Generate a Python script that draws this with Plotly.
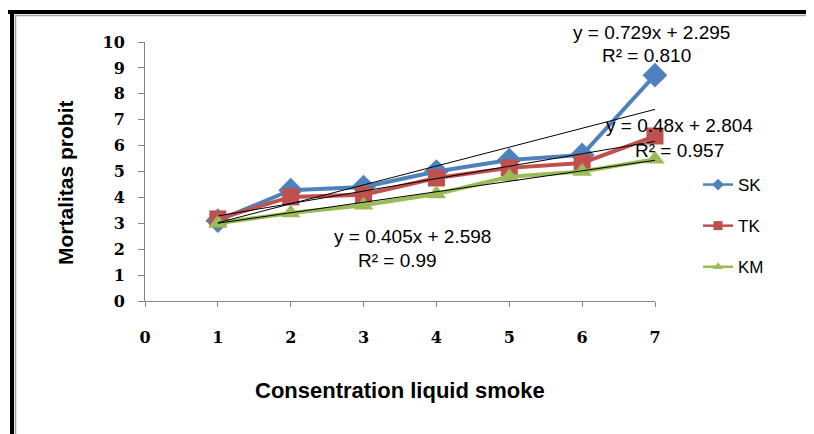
import plotly.graph_objects as go

# ---- data ----
conc = [1, 2, 3, 4, 5, 6, 7]
sk = [3.1, 4.28, 4.4, 5.0, 5.44, 5.64, 8.72]
tk = [3.17, 4.02, 4.1, 4.75, 5.14, 5.33, 6.37]
km = [3.0, 3.4, 3.7, 4.13, 4.8, 5.0, 5.47]
series_names = ["SK", "TK", "KM"]
colors = ["#4F81BD", "#C0504D", "#9BBB59"]
symbols = ["diamond", "square", "triangle-up"]

# trendline coefficients (as printed on the chart)
slopes = [0.729, 0.48, 0.405]
intercepts = [2.295, 2.804, 2.598]
r2 = ["0.810", "0.957", "0.99"]

x_ticks = [0, 1, 2, 3, 4, 5, 6, 7]
y_ticks = [0, 1, 2, 3, 4, 5, 6, 7, 8, 9, 10]

# page offset of the plot div (body margin)
OFF = 8
W, H = 814, 434
L, R, T, B = 145 - OFF, 655 - OFF, 42 - OFF, 301 - OFF


def px(p):
    return (p - OFF - L) / (R - L)


def py(p):
    return (B - (p - OFF)) / (B - T)


# label positions in screen pixels (eq centre, R² centre)
eq_pix = [((651, 32), (646, 55)), ((679, 125), (679, 150)), ((412, 236), (397, 260))]

fig = go.Figure()
for name, ys, c, s in zip(series_names, [sk, tk, km], colors, symbols):
    fig.add_trace(go.Scatter(
        x=conc, y=ys, mode="lines+markers", name=name, showlegend=False,
        line=dict(color=c, width=4),
        marker=dict(symbol=s, size=17 if s != "diamond" else 19, color=c),
        cliponaxis=False))

xs_tr = [conc[0], conc[-1]]
for m, b in zip(slopes, intercepts):
    fig.add_trace(go.Scatter(
        x=xs_tr, y=[m * v + b for v in xs_tr], mode="lines", showlegend=False,
        line=dict(color="black", width=1), cliponaxis=False))

# legend entries
for name, c, s in zip(series_names, colors, symbols):
    fig.add_trace(go.Scatter(
        x=[None], y=[None], mode="lines+markers", name=name, legendgroup=name,
        line=dict(color=c, width=2.5), marker=dict(symbol=s, size=9, color=c)))

ann_font = dict(family="Liberation Sans", size=19, color="black")
annotations = []
for ((ex, ey), (rx, ry)), m, b, r in zip(eq_pix, slopes, intercepts, r2):
    annotations.append(dict(x=px(ex), y=py(ey), xref="paper", yref="paper", showarrow=False,
                            xanchor="center", yanchor="middle",
                            text=f"y = {m}x + {b}", font=ann_font))
    annotations.append(dict(x=px(rx), y=py(ry), xref="paper", yref="paper", showarrow=False,
                            xanchor="center", yanchor="middle",
                            text=f"R² = {r}", font=ann_font))

annotations.append(dict(x=px(400), y=py(390), xref="paper", yref="paper", showarrow=False,
                        xanchor="center", yanchor="middle",
                        text="<b>Consentration liquid smoke</b>",
                        font=dict(family="Liberation Sans", size=22, color="black")))
annotations.append(dict(x=px(65), y=py(183), xref="paper", yref="paper", showarrow=False,
                        xanchor="center", yanchor="middle",
                        textangle=-90, text="<b>Mortalitas probit</b>",
                        font=dict(family="Liberation Sans", size=21, color="black")))

shapes = [
    dict(type="line", xref="paper", yref="paper", x0=px(8), x1=px(W + 20), y0=py(12), y1=py(12),
         line=dict(color="black", width=4)),
    dict(type="line", xref="paper", yref="paper", x0=px(12), x1=px(12), y0=py(10), y1=py(H + 20),
         line=dict(color="black", width=4)),
    dict(type="line", xref="paper", yref="paper", x0=px(15), x1=px(W + 20), y0=py(15.5), y1=py(15.5),
         line=dict(color="#A0A0A0", width=1.5)),
    dict(type="line", xref="paper", yref="paper", x0=px(15.5), x1=px(15.5), y0=py(15), y1=py(H + 20),
         line=dict(color="#A0A0A0", width=1.5)),
]

tick_font = dict(family="DejaVu Serif", size=16, color="black")
fig.update_layout(
    width=W, height=H,
    margin=dict(l=L, r=W - R, t=T, b=H - B),
    paper_bgcolor="white", plot_bgcolor="white",
    xaxis=dict(range=[0, 7], tickvals=x_ticks, ticktext=[f"<b>{v}</b>" for v in x_ticks],
               showgrid=False, zeroline=False, showline=True, linecolor="#868686", linewidth=1,
               ticks="outside", ticklen=5, tickcolor="#868686", tickfont=tick_font,
               ticklabelstandoff=17),
    yaxis=dict(range=[0, 10], tickvals=y_ticks, ticktext=[f"<b>{v}</b>" for v in y_ticks],
               showgrid=False, zeroline=False, showline=True, linecolor="#868686", linewidth=1,
               ticks="outside", ticklen=6, tickcolor="#868686", tickfont=tick_font,
               ticklabelstandoff=10),
    legend=dict(x=px(698), y=py(167), xanchor="left", yanchor="top",
                font=dict(family="Liberation Sans", size=17, color="black"),
                tracegroupgap=16, traceorder="grouped", bgcolor="rgba(0,0,0,0)"),
    annotations=annotations,
    shapes=shapes,
)

fig.write_html("out.html")
